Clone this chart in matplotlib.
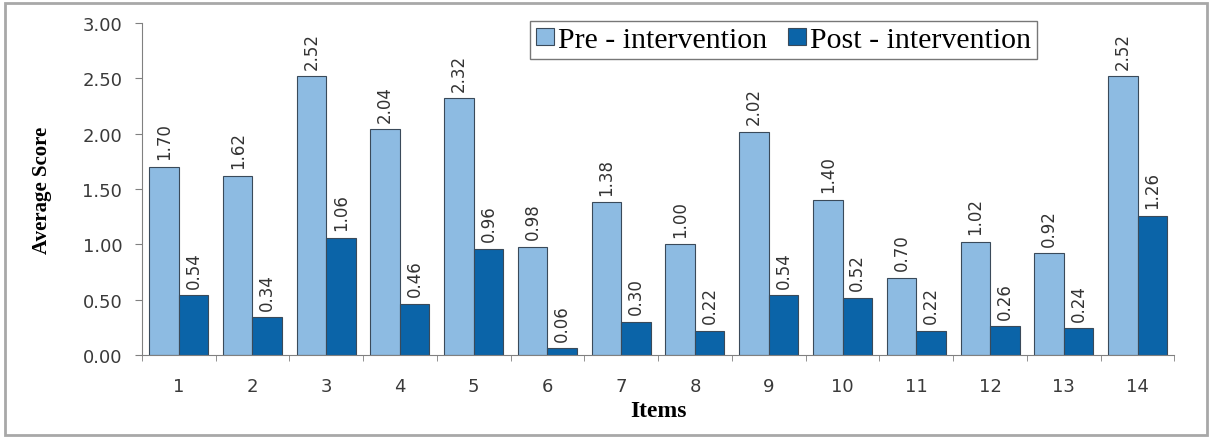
import numpy as np
import matplotlib
matplotlib.use("Agg")
import matplotlib.pyplot as plt
from matplotlib.patches import Rectangle

# Average scores per item
items = ["1", "2", "3", "4", "5", "6", "7", "8", "9", "10", "11", "12", "13", "14"]
pre = [1.70, 1.62, 2.52, 2.04, 2.32, 0.98, 1.38, 1.00, 2.02, 1.40, 0.70, 1.02, 0.92, 2.52]
post = [0.54, 0.34, 1.06, 0.46, 0.96, 0.06, 0.30, 0.22, 0.54, 0.52, 0.22, 0.26, 0.24, 1.26]

pre_color = "#8dbbe2"
post_color = "#0b64a8"
edge = "#3a4a5a"

fig = plt.figure(figsize=(12.12, 4.39), dpi=100)
ax = fig.add_axes([0.117, 0.189, 0.852, 0.756])

x = np.arange(len(items))
w = 0.4
b1 = ax.bar(x - w / 2, pre, w, color=pre_color, edgecolor=edge, linewidth=0.8,
            label="Pre - intervention")
b2 = ax.bar(x + w / 2, post, w, color=post_color, edgecolor=edge, linewidth=0.8,
            label="Post - intervention")

narrow = "Liberation Sans Narrow"
for bars, vals in ((b1, pre), (b2, post)):
    for r, v in zip(bars, vals):
        ax.text(r.get_x() + r.get_width() / 2, v + 0.07, f"{v:.2f}",
                rotation=90, ha="center", va="bottom", fontsize=12,
                family=[narrow, "DejaVu Sans"], color="#333333")

ax.set_xlim(-0.5, len(items) - 0.5)
ax.set_ylim(0, 3.0)
ax.set_yticks(np.arange(0, 3.01, 0.5))
ax.set_yticklabels([f"{t:.2f}" for t in np.arange(0, 3.01, 0.5)])
ax.set_xticks(x)
ax.set_xticklabels(items)
ax.set_xticks(np.arange(-0.5, len(items), 1), minor=True)
ax.tick_params(axis="x", which="major", length=0, pad=16, labelsize=13, labelcolor="#3a3a3a")
ax.tick_params(axis="x", which="minor", length=4, color="#808080")
ax.tick_params(axis="y", length=5, color="#808080", labelsize=13, labelcolor="#3a3a3a", pad=9)

for s in ("top", "right"):
    ax.spines[s].set_visible(False)
for s in ("left", "bottom"):
    ax.spines[s].set_color("#808080")

ax.set_xlabel("Items", family="Liberation Serif", fontweight="bold", fontsize=17)
ax.xaxis.set_label_coords(0.5, -0.135)
ax.set_ylabel("Average Score", family="Liberation Serif", fontweight="bold", fontsize=15)
ax.yaxis.set_label_coords(-0.087, 0.5)

leg = fig.legend(handles=[b1, b2], loc="upper left", bbox_to_anchor=(0.437, 0.95), ncol=2,
                 frameon=True, fancybox=False, edgecolor="#555555", handlelength=0.6,
                 handleheight=0.5, handletextpad=0.15, columnspacing=0.7, borderpad=0.2,
                 borderaxespad=0, prop={"family": "Liberation Serif", "size": 21.5})
leg.get_frame().set_linewidth(1.0)

# outer frame around the whole chart
fig.patches.append(Rectangle((0.004, 0.007), 0.992, 0.985, transform=fig.transFigure,
                             fill=False, edgecolor="#a8a8a8", linewidth=2))

fig.savefig("out.png", dpi=100)
